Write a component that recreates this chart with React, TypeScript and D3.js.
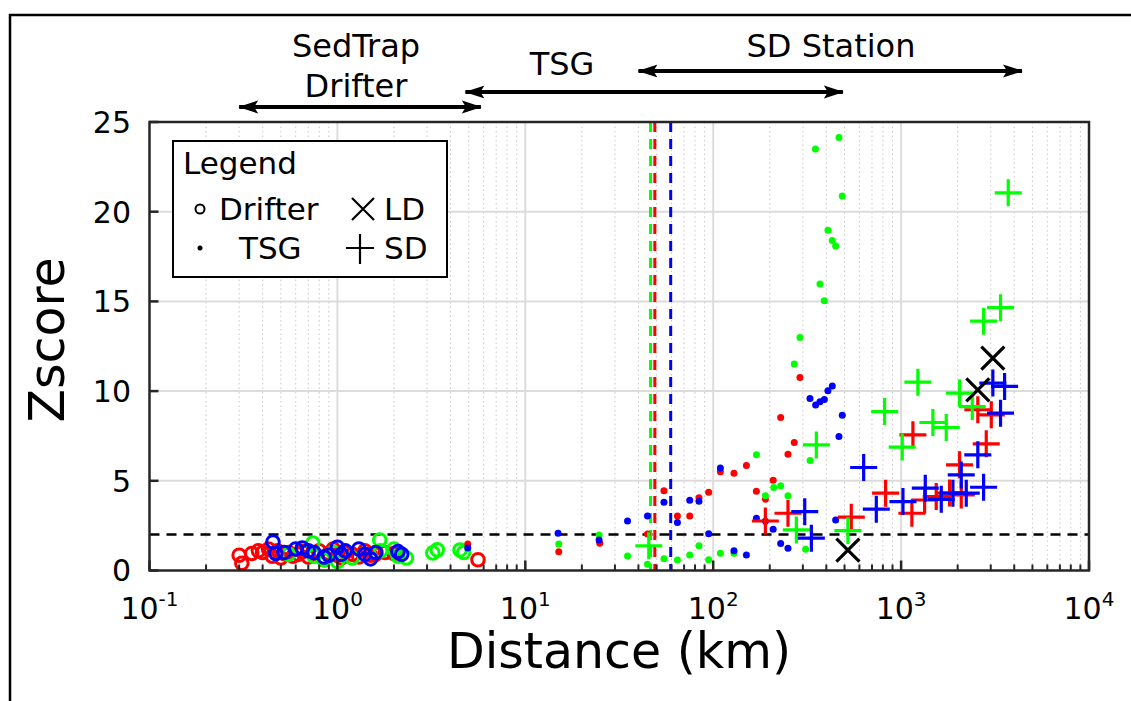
import React from "react";
import * as d3 from "d3";

// ---- data: [distance (km), zscore] ----
const drifterRed: [number, number][] = [
  [0.3, 0.85], [0.31, 0.4], [0.35, 0.95], [0.38, 1.1], [0.4, 1.0], [0.43, 1.2], [0.45, 0.8],
  [0.48, 1.1], [0.5, 0.7], [0.52, 0.95], [0.55, 1.0], [0.58, 0.8], [0.62, 0.9], [0.65, 1.05],
  [0.7, 0.75], [0.75, 0.9], [0.8, 1.1], [0.85, 0.6], [0.9, 0.95], [0.95, 1.2], [1.0, 0.85],
  [1.05, 0.7], [1.1, 1.0], [1.2, 0.9], [1.3, 0.75], [1.4, 1.1], [1.5, 0.85], [1.6, 0.9],
  [1.8, 1.0], [2.0, 0.95], [5.6, 0.6],
];
const drifterGreen: [number, number][] = [
  [0.55, 0.9], [0.74, 1.53], [0.75, 0.8], [0.85, 0.6], [0.95, 1.0], [1.0, 0.5], [1.2, 0.7],
  [1.68, 1.7], [1.7, 1.1], [2.0, 1.2], [2.1, 0.8], [2.33, 0.7], [3.22, 0.98], [3.4, 1.15],
  [4.49, 1.14], [4.7, 1.0],
];
const drifterBlue: [number, number][] = [
  [0.454, 1.59], [0.47, 0.95], [0.52, 1.0], [0.6, 1.2], [0.65, 1.25], [0.7, 1.1], [0.75, 1.0],
  [0.85, 0.75], [0.9, 0.85], [1.0, 1.3], [1.05, 0.9], [1.1, 1.1], [1.3, 1.2], [1.4, 0.9],
  [1.5, 0.65], [1.6, 1.0], [2.1, 1.05], [2.2, 0.9],
];

const tsgRed: [number, number][] = [
  [4.94, 1.48], [15.07, 1.05], [24.9, 1.52], [44.7, 2.04], [54.7, 4.44], [64.5, 3.04],
  [75.0, 3.04], [84.0, 4.05], [94.6, 4.36], [109.2, 5.51], [129.0, 5.42], [150.2, 5.85],
  [169.8, 4.42], [189.5, 3.97], [208.5, 5.03], [228.6, 8.53], [250, 6.48], [270, 7.13],
  [289.5, 10.76],
];
const tsgGreen: [number, number][] = [
  [15.07, 1.48], [24.7, 1.98], [35.0, 0.81], [44.7, 0.35], [54.7, 0.66], [64.5, 0.59],
  [75.0, 0.86], [84.0, 1.38], [94.6, 0.6], [109.2, 0.96], [129.0, 0.96], [169.8, 6.45],
  [189.5, 4.17], [210, 4.62], [228.6, 4.72], [250, 4.16], [270, 11.51], [289.5, 12.99],
  [310.5, 1.18], [328, 6.13], [350, 23.5], [370, 15.97], [390, 15.04], [408, 18.96],
  [430, 18.4], [448, 18.09], [467, 24.14], [486, 20.88],
];
const tsgBlue: [number, number][] = [
  [4.94, 1.26], [14.94, 2.08], [24.7, 1.7], [35.0, 2.76], [44.7, 3.04], [54.7, 3.81],
  [64.5, 2.67], [75.0, 3.92], [84.0, 3.86], [94.6, 2.05], [109.2, 5.72], [129.0, 1.1],
  [150.2, 0.86], [169.8, 2.91], [189.5, 2.75], [208.5, 2.3], [228.6, 1.5], [250, 1.24],
  [327.3, 9.59], [350.8, 9.22], [370, 9.4], [390.4, 9.53], [407.9, 10.02], [430.5, 10.28],
  [448.4, 2.82], [466.9, 7.47], [486.5, 8.66],
];

const sdGreen: [number, number][] = [
  [45.4, 1.38], [277, 2.26], [354, 7.0], [521, 2.22], [817, 8.86], [1014, 6.88],
  [1228, 10.5], [1476, 8.25], [1739, 7.97], [2047, 9.89], [2392, 9.14], [2748, 13.9],
  [3382, 14.65], [3717, 21.05],
];
const sdRed: [number, number][] = [
  [189.5, 2.76], [250, 3.19], [543, 2.97], [827, 4.31], [1141, 3.19], [1156, 7.56],
  [1334, 3.93], [1538, 4.12], [1811, 4.32], [2047, 5.89], [2090, 4.21], [2560, 8.96],
  [2839, 7.06], [3019, 8.68],
];
const sdBlue: [number, number][] = [
  [307, 3.28], [333, 1.8], [632, 5.74], [738, 3.42], [1023, 3.84], [1345, 4.59],
  [1636, 3.97], [1887, 4.31], [2090, 5.33], [2222, 4.31], [2560, 6.45], [2748, 4.64],
  [3078, 10.45], [3382, 8.77], [3554, 10.26],
];
const ldBlack: [number, number][] = [[521, 1.14], [2560, 10.07], [3078, 11.84]];

// distance cut-offs (km) per colour
const cutoffGreen = 46.4;
const cutoffRed = 48.9;
const cutoffBlue = 59.4;
const zThreshold = 2;

// range annotations above the axes
const rangeLabels: string[][] = [["SedTrap", "Drifter"], ["TSG"], ["SD Station"]];
const rangeFrom = [0.3, 4.8, 40];
const rangeTo = [5.8, 490, 4400];

const xTickValues = [0.1, 1, 10, 100, 1000, 10000];
const xTickExponents = ["-1", "0", "1", "2", "3", "4"];
const yTickValues = [0, 5, 10, 15, 20, 25];

const RED = "#ff0000";
const GREEN = "#00ff00";
const BLUE = "#0000ff";
const FONT = "DejaVu Sans, sans-serif";

export default function App() {
  const left = 149.5, right = 1089, top = 122, bottom = 570.5;
  const x = d3.scaleLog().domain([0.1, 10000]).range([left, right]);
  const y = d3.scaleLinear().domain([0, 25]).range([bottom, top]);

  const minor: number[] = [];
  for (let d = 0.1; d < 10000; d *= 10) {
    for (let k = 2; k <= 9; k++) minor.push(d * k);
  }

  const circles = (data: [number, number][], c: string, key: string) =>
    data.map(([dx, dz], i) => (
      <circle key={key + i} cx={x(dx)} cy={y(dz)} r={6.3} fill="none" stroke={c} strokeWidth={3} />
    ));
  const dots = (data: [number, number][], c: string, key: string) =>
    data.map(([dx, dz], i) => <circle key={key + i} cx={x(dx)} cy={y(dz)} r={3.5} fill={c} />);
  const pluses = (data: [number, number][], c: string, key: string) =>
    data.map(([dx, dz], i) => {
      const cx = x(dx), cy = y(dz), s = 13.5;
      return (
        <path key={key + i} d={`M${cx - s},${cy}H${cx + s}M${cx},${cy - s}V${cy + s}`}
          stroke={c} strokeWidth={3.2} fill="none" />
      );
    });
  const crosses = (data: [number, number][], c: string, key: string) =>
    data.map(([dx, dz], i) => {
      const cx = x(dx), cy = y(dz), s = 11.5;
      return (
        <path key={key + i}
          d={`M${cx - s},${cy - s}L${cx + s},${cy + s}M${cx - s},${cy + s}L${cx + s},${cy - s}`}
          stroke={c} strokeWidth={3.2} fill="none" />
      );
    });

  const arrowY = [107, 92, 71];
  const labelX = [356, 562, 831];
  const labelY = [[57, 97], [75], [57]];

  return (
    <svg width={1131} height={701} style={{ display: "block", position: "absolute", left: 0, top: 0 }}
      fontFamily={FONT}>
      <defs>
        <marker id="ah" viewBox="0 0 20 14" refX={19} refY={7} markerWidth={20} markerHeight={14}
          orient="auto-start-reverse" markerUnits="userSpaceOnUse">
          <path d="M0,0.5L20,7L0,13.5L4,7Z" fill="#000" />
        </marker>
        <clipPath id="plotClip">
          <rect x={left} y={top} width={right - left} height={bottom - top} />
        </clipPath>
      </defs>
      <rect x={0} y={0} width={1131} height={701} fill="#fff" />
      {/* outer frame */}
      <path d="M10,701V15H1131" fill="none" stroke="#000" strokeWidth={2.5} />

      {/* grid */}
      {minor.map((v, i) => (
        <line key={"mg" + i} x1={x(v)} x2={x(v)} y1={top} y2={bottom} stroke="#c8c8c8"
          strokeWidth={1} strokeDasharray="1.5,3" />
      ))}
      {xTickValues.slice(1, -1).map((v, i) => (
        <line key={"gx" + i} x1={x(v)} x2={x(v)} y1={top} y2={bottom} stroke="#dcdcdc" strokeWidth={2} />
      ))}
      {yTickValues.slice(1, -1).map((v, i) => (
        <line key={"gy" + i} x1={left} x2={right} y1={y(v)} y2={y(v)} stroke="#dcdcdc" strokeWidth={2} />
      ))}

      {/* cut-off lines */}
      <line x1={left} x2={right} y1={y(zThreshold)} y2={y(zThreshold)} stroke="#000" strokeWidth={2.5}
        strokeDasharray="10,7" />
      <line x1={x(cutoffGreen)} x2={x(cutoffGreen)} y1={top} y2={bottom} stroke={GREEN} strokeWidth={3}
        strokeDasharray="10,7" />
      <line x1={x(cutoffRed)} x2={x(cutoffRed)} y1={top} y2={bottom} stroke={RED} strokeWidth={3}
        strokeDasharray="10,7" />
      <line x1={x(cutoffBlue)} x2={x(cutoffBlue)} y1={top} y2={bottom} stroke={BLUE} strokeWidth={3}
        strokeDasharray="10,7" />

      {/* marks */}
      <g clipPath="url(#plotClip)">
        {circles(drifterRed, RED, "dr")}
        {circles(drifterGreen, GREEN, "dg")}
        {circles(drifterBlue, BLUE, "db")}
        {dots(tsgRed, RED, "tr")}
        {dots(tsgGreen, GREEN, "tg")}
        {dots(tsgBlue, BLUE, "tb")}
        {pluses(sdRed, RED, "sr")}
        {pluses(sdGreen, GREEN, "sg")}
        {pluses(sdBlue, BLUE, "sb")}
        {crosses(ldBlack, "#000", "ld")}
      </g>

      {/* axes box and ticks */}
      <rect x={left} y={top} width={right - left} height={bottom - top} fill="none" stroke="#262626"
        strokeWidth={2.5} />
      {minor.map((v, i) => (
        <line key={"mt" + i} x1={x(v)} x2={x(v)} y1={bottom} y2={bottom - 6} stroke="#262626" strokeWidth={2} />
      ))}
      {xTickValues.map((v, i) => (
        <line key={"xt" + i} x1={x(v)} x2={x(v)} y1={bottom} y2={bottom - 10} stroke="#262626" strokeWidth={2.5} />
      ))}
      {yTickValues.map((v, i) => (
        <line key={"yt" + i} x1={left} x2={left + 9} y1={y(v)} y2={y(v)} stroke="#262626" strokeWidth={2.5} />
      ))}

      {/* tick labels */}
      {xTickValues.map((v, i) => (
        <text key={"xl" + i} x={x(v)} y={619} fontSize={30} textAnchor="middle" fill="#000">
          10<tspan fontSize={20} dy={-13}>{xTickExponents[i]}</tspan>
        </text>
      ))}
      {yTickValues.map((v, i) => (
        <text key={"yl" + i} x={131} y={y(v)} dy="0.36em" fontSize={30} textAnchor="end" fill="#000">
          {v}
        </text>
      ))}

      {/* axis titles */}
      <text x={619} y={668} fontSize={49} textAnchor="middle" fill="#000">Distance (km)</text>
      <text transform={`translate(64,340) rotate(-90)`} fontSize={49} textAnchor="middle" fill="#000">
        Zscore
      </text>

      {/* range annotations */}
      {rangeLabels.map((lines, i) => (
        <g key={"ra" + i}>
          <line x1={x(rangeFrom[i])} x2={x(rangeTo[i])} y1={arrowY[i]} y2={arrowY[i]} stroke="#000"
            strokeWidth={4} markerStart="url(#ah)" markerEnd="url(#ah)" />
          {lines.map((t, j) => (
            <text key={j} x={labelX[i]} y={labelY[i][j]} fontSize={32} textAnchor="middle" fill="#000">
              {t}
            </text>
          ))}
        </g>
      ))}

      {/* legend */}
      <g>
        <rect x={173} y={141} width={274} height={136} fill="#fff" stroke="#000" strokeWidth={2} />
        <text x={183} y={174} fontSize={31} fill="#000">Legend</text>
        <circle cx={200} cy={209} r={4.5} fill="none" stroke="#000" strokeWidth={2} />
        <text x={219} y={220} fontSize={31} fill="#000">Drifter</text>
        <circle cx={200} cy={248} r={2.5} fill="#000" />
        <text x={239} y={259} fontSize={31} fill="#000">TSG</text>
        <path d="M352,198L374,220M352,220L374,198" stroke="#000" strokeWidth={2.2} />
        <text x={384} y={220} fontSize={31} fill="#000">LD</text>
        <path d="M346,248H374M360,234V264" stroke="#000" strokeWidth={2.2} />
        <text x={384} y={259} fontSize={31} fill="#000">SD</text>
      </g>
    </svg>
  );
}
